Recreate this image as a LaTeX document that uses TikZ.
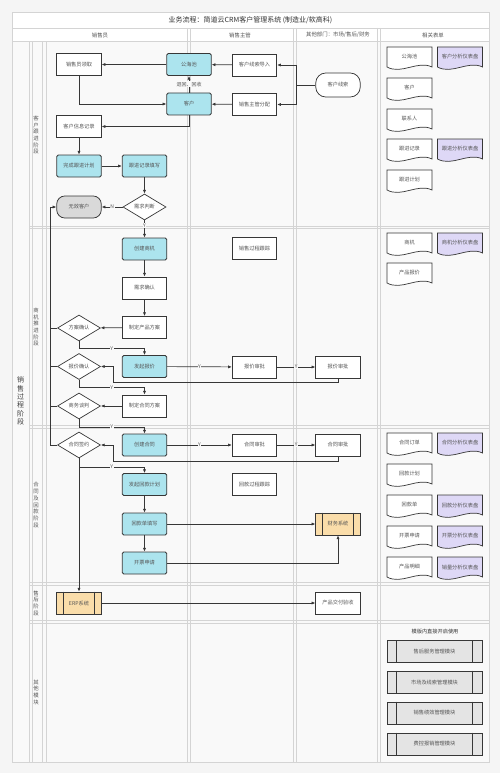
\documentclass[tikz,border=0pt]{standalone}
\usepackage{fontspec}
\setmainfont{Noto Sans CJK SC}
\usetikzlibrary{arrows.meta,shapes.geometric,calc}
\definecolor{cyanfill}{RGB}{172,228,238}
\definecolor{orangefill}{RGB}{250,221,170}
\definecolor{purplefill}{RGB}{222,216,246}
\definecolor{grayfill}{RGB}{217,217,217}
\definecolor{modfill}{RGB}{228,228,228}
\definecolor{lanebg}{RGB}{249,249,249}
\definecolor{pagebg}{RGB}{245,245,245}
\definecolor{laneline}{RGB}{212,212,212}
\definecolor{txt}{RGB}{85,85,85}
\definecolor{edge}{RGB}{55,55,55}
\newcommand{\mydoc}[5]{%
  \path[draw=edge,line width=0.7pt,fill=#4] (#2-22.5,#3) -- (#2+22.5,#3) -- (#2+22.5,#3+20)
    .. controls (#2+8,#3+13) and (#2-8,#3+28) .. (#2-22.5,#3+20) -- cycle;
  \node[doctext] (#1) at (#2,#3+10) {#5};}
\newcommand{\mypp}[2]{%
  \draw[draw=edge,line width=0.7pt] ([xshift=#2]#1.north west) -- ([xshift=#2]#1.south west)
    ([xshift=-#2]#1.north east) -- ([xshift=-#2]#1.south east);}
\begin{document}
\begin{tikzpicture}[x=1pt,y=-1pt,
  box/.style={draw=edge,line width=0.75pt,fill=white,minimum width=44.5pt,minimum height=22pt,
    inner sep=0pt,font=\fontsize{5.2}{6}\selectfont,text=txt},
  cbox/.style={box,fill=cyanfill,rounded corners=1.5pt},
  obox/.style={box,fill=orangefill},
  mbox/.style={box,fill=modfill,minimum width=95pt},
  dia/.style={diamond,draw=edge,line width=0.7pt,fill=white,minimum width=43pt,minimum height=26pt,
    aspect=1.7,inner sep=0pt,font=\fontsize{5.2}{6}\selectfont,text=txt},
  doctext/.style={inner sep=0pt,font=\fontsize{5.2}{6}\selectfont,text=txt},
  conn/.style={draw=edge,line width=0.7pt,-{Latex[length=3.8pt,width=3.2pt]}},
  plain/.style={draw=edge,line width=0.7pt},
  lbl/.style={fill=lanebg,inner sep=0.6pt,font=\fontsize{5}{5}\selectfont,text=txt},
  lane/.style={draw=laneline,line width=0.6pt},
  hdr/.style={font=\fontsize{5.4}{6}\selectfont,text=txt},
  stg/.style={font=\fontsize{5.4}{6.7}\selectfont,text=txt,align=center,inner sep=0pt}
]
\useasboundingbox (0,0) rectangle (500,773);
\fill[pagebg] (0,0) rectangle (500,773);
% frame and lanes
\fill[lanebg] (12,41.5) rectangle (489,762);
\fill[white] (12,12) rectangle (489,41.5);
\draw[lane] (12,12) rectangle (489,762);
\draw[lane] (12,28) -- (489,28);
\draw[lane] (12,41.5) -- (489,41.5);
\foreach \xx in {187.5,190.5,293,296.5,377.5,380.5} \draw[lane] (\xx,28) -- (\xx,762);
\foreach \xx in {29,32,42,46} \draw[lane] (\xx,41.5) -- (\xx,762);
\foreach \yy in {226,228.5,425.5,428,582,585,620,623} \draw[lane] (29,\yy) -- (489,\yy);
\node[font=\fontsize{7}{8}\selectfont,text=black!80] (title) at (250.5,20) {业务流程：简道云CRM客户管理系统 (制造业/软高科)};
\node[hdr] (h1) at (100,35) {销售员};
\node[hdr] (h2) at (240,35) {销售主管};
\node[hdr] (h3) at (338,35) {其他部门：市场/售后/财务};
\node[hdr] (h4) at (433,35) {相关表单};
\node[stg,font=\fontsize{7}{8.3}\selectfont,text=black!75] (s0) at (20.5,401) {销\\售\\过\\程\\阶\\段};
\node[stg] (s1) at (36,135) {客\\户\\跟\\进\\阶\\段};
\node[stg] (s2) at (36,327) {商\\机\\推\\进\\阶\\段};
\node[stg] (s3) at (36,505) {合\\同\\及\\回\\款\\阶\\段};
\node[stg] (s4) at (36,603) {售\\后\\阶\\段};
\node[stg] (s5) at (36,692) {其\\他\\模\\块};
% stage 1
\node[box] (lq) at (79,64.5) {销售员领取};
\node[cbox] (ghc) at (189,64.5) {公海池};
\node[cbox] (kh) at (189,104) {客户};
\node[box] (xsdr) at (254.5,65) {客户线索导入};
\node[box] (zgfp) at (254.5,104.5) {销售主管分配};
\node[box,rounded corners=10pt,minimum height=24pt] (xs) at (338,85) {客户线索};
\node[box] (xxjl) at (79,126.5) {客户信息记录};
\node[cbox] (wcjh) at (79,166) {完成跟进计划};
\node[cbox] (gjtx) at (144.5,166) {跟进记录填写};
\node[dia] (xqpd) at (144.5,207) {需求判断};
\node[box,fill=grayfill,rounded corners=8pt] (wxkh) at (79,207) {无效客户};
% stage 2
\node[cbox] (cjsj) at (144.5,249) {创建商机};
\node[box] (xqqr) at (144.5,288) {需求确认};
\node[box] (zdfa) at (144.5,327.5) {制定产品方案};
\node[dia] (faqr) at (79,328) {方案确认};
\node[cbox] (fqbj) at (144.5,366.5) {发起报价};
\node[dia] (bjqr) at (79,366.5) {报价确认};
\node[box] (bjsp1) at (254.5,367) {报价审批};
\node[box] (bjsp2) at (338,367) {报价审批};
\node[box] (zdht) at (144.5,406) {制定合同方案};
\node[dia] (swtp) at (79,406) {商务谈判};
\node[box] (xsgz) at (254.5,248.5) {销售过程跟踪};
% stage 3
\node[cbox] (cjht) at (144.5,445) {创建合同};
\node[dia] (htqy) at (79,445) {合同签约};
\node[box] (htsp1) at (254.5,445) {合同审批};
\node[box] (htsp2) at (338,445) {合同审批};
\node[cbox] (fqhk) at (144.5,484.5) {发起回款计划};
\node[cbox] (hkd) at (144.5,524) {回款单填写};
\node[cbox] (kpsq) at (144.5,563) {开票申请};
\node[box] (hkgz) at (254.5,484.5) {回款过程跟踪};
\node[obox] (cwxt) at (338,524) {财务系统};
\mypp{cwxt}{7pt}
% stage 4
\node[obox] (erp) at (79,603) {ERP系统};
\mypp{erp}{7pt}
\node[box] (jfys) at (338,603) {产品交付验收};
% modules
\node[font=\fontsize{5.2}{6}\selectfont,text=black!80] (mtitle) at (435,632) {模版内直接开启使用};
\node[mbox] (m1) at (434.5,651.5) {售后服务管理模块};
\node[mbox] (m2) at (434.5,682) {市场及线索管理模块};
\node[mbox] (m3) at (434.5,713) {销售绩效管理模块};
\node[mbox] (m4) at (434.5,744) {费控报销管理模块};
\mypp{m1}{10pt}\mypp{m2}{10pt}\mypp{m3}{10pt}\mypp{m4}{10pt}
% documents
\mydoc{d1}{409.5}{47}{white}{公海池}
\mydoc{p1}{460}{47}{purplefill}{客户分析仪表盘}
\mydoc{d2}{409.5}{78}{white}{客户}
\mydoc{d3}{409.5}{109}{white}{联系人}
\mydoc{d4}{409.5}{139}{white}{跟进记录}
\mydoc{p2}{460}{139}{purplefill}{跟进分析仪表盘}
\mydoc{d5}{409.5}{170}{white}{跟进计划}
\mydoc{d6}{409.5}{233}{white}{商机}
\mydoc{p3}{460}{233}{purplefill}{商机分析仪表盘}
\mydoc{d7}{409.5}{263}{white}{产品报价}
\mydoc{d8}{409.5}{433}{white}{合同订单}
\mydoc{p4}{460}{433}{purplefill}{合同分析仪表盘}
\mydoc{d9}{409.5}{464}{white}{回款计划}
\mydoc{d10}{409.5}{495}{white}{回款单}
\mydoc{p5}{460}{495}{purplefill}{回款分析仪表盘}
\mydoc{d11}{409.5}{526}{white}{开票申请}
\mydoc{p6}{460}{526}{purplefill}{开票分析仪表盘}
\mydoc{d12}{409.5}{557}{white}{产品明细}
\mydoc{p7}{460}{557}{purplefill}{销量分析仪表盘}
% connectors stage 1
\draw[conn] (ghc) -- (lq);
\draw[conn] (lq.south) |- (kh.west);
\draw[conn] (kh) -- node[lbl]{退回、回收} (ghc);
\draw[conn] (xsdr) -- (ghc);
\draw[conn] (zgfp) -- (kh);
\coordinate (jx) at (296,85);
\draw[conn] (xs.west) -- (jx) |- (xsdr.east);
\draw[conn] (jx) |- (zgfp.east);
\draw[conn] (kh.south) |- (xxjl.east);
\draw[conn] (xxjl) -- (wcjh);
\draw[conn] (wcjh) -- (gjtx);
\draw[conn] (gjtx) -- (xqpd);
\draw[conn] (xqpd) -- node[lbl]{N} (wxkh);
\draw[conn] (xqpd) -- node[lbl,pos=0.3]{Y} (cjsj);
% left return line
\coordinate (Lt) at (50,207);
\coordinate (Lb) at (50,445);
\draw[conn] (htqy.west) -- (Lb) -- (Lt) -- (wxkh.west);
\draw[plain] (faqr.west) -- (faqr.west -| Lt);
\draw[plain] (bjqr.west) -- (bjqr.west -| Lt);
\draw[plain] (swtp.west) -- (swtp.west -| Lt);
% stage 2
\draw[conn] (cjsj) -- (xqqr);
\draw[conn] (xqqr) -- (zdfa);
\draw[conn] (zdfa) -- (faqr);
\draw[conn] (faqr.south) -- ++(0,7) -| node[lbl,pos=0.25]{Y} (fqbj.north);
\draw[conn] (fqbj) -- node[lbl]{Y} (bjsp1);
\draw[conn] (bjsp1) -- node[lbl]{Y} (bjsp2);
\coordinate (r1) at (113,382.5);
\draw[conn] (bjsp2.south) |- (r1) |- (bjqr.east);
\draw[conn] (bjqr.south) -- ++(0,7.5) -| node[lbl,pos=0.25]{Y} (zdht.north);
\draw[conn] (zdht) -- (swtp);
\draw[conn] (swtp.south) -- ++(0,7.5) -| node[lbl,pos=0.25]{Y} (cjht.north);
% stage 3
\draw[conn] (cjht) -- node[lbl]{Y} (htsp1);
\draw[conn] (htsp1) -- node[lbl]{Y} (htsp2);
\coordinate (r2) at (113,461);
\draw[conn] (htsp2.south) |- (r2) |- (htqy.east);
\draw[conn] (htqy.south) -- (erp.north);
\draw[conn] (htqy.south) -- ++(0,8.5) -| node[lbl,pos=0.25]{Y} (fqhk.north);
\draw[conn] (fqhk) -- (hkd);
\draw[conn] (hkd) -- (kpsq);
\draw[conn] (hkd) -- (cwxt);
\draw[conn] (kpsq.east) -| (cwxt.south);
\draw[conn] (erp) -- (jfys);
\end{tikzpicture}
\end{document}
